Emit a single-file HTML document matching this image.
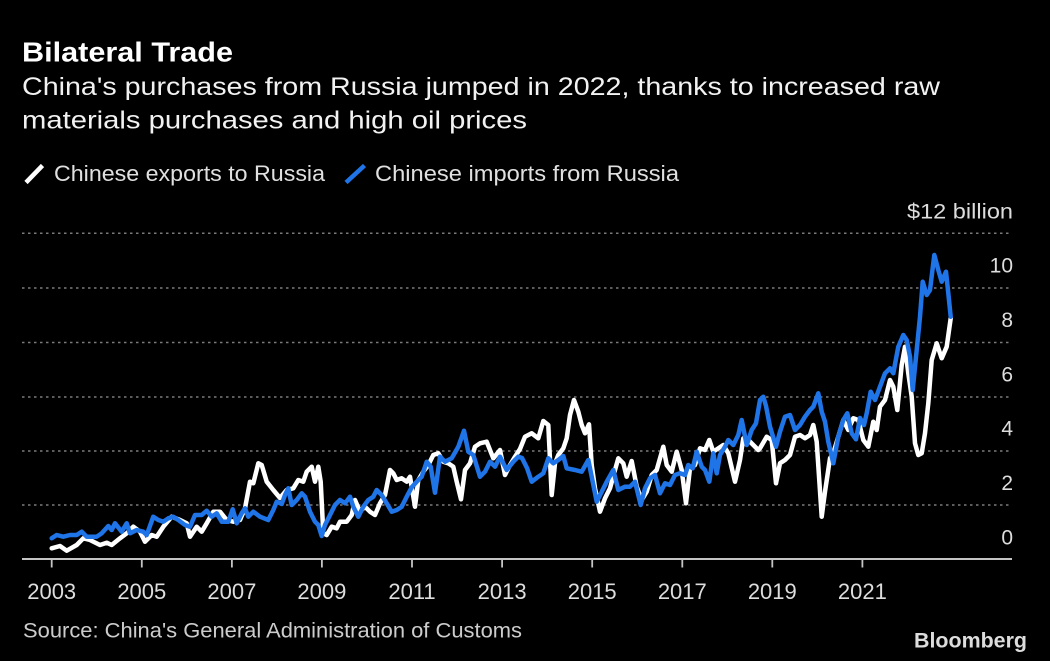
<!DOCTYPE html>
<html>
<head>
<meta charset="utf-8">
<style>
html,body{margin:0;padding:0;background:#000;width:1050px;height:661px;overflow:hidden;}
svg{display:block;}
text{font-family:"Liberation Sans",sans-serif;}
</style>
</head>
<body>
<svg width="1050" height="661" viewBox="0 0 1050 661" xmlns="http://www.w3.org/2000/svg">
<rect x="0" y="0" width="1050" height="661" fill="#000"/>

<!-- Title & subtitle -->
<text x="22" y="61.5" font-size="28" font-weight="bold" fill="#ffffff" textLength="211" lengthAdjust="spacingAndGlyphs">Bilateral Trade</text>
<text x="22" y="95" font-size="25" fill="#f2f2f2" textLength="918" lengthAdjust="spacingAndGlyphs">China's purchases from Russia jumped in 2022, thanks to increased raw</text>
<text x="22" y="128.5" font-size="25" fill="#f2f2f2" textLength="505" lengthAdjust="spacingAndGlyphs">materials purchases and high oil prices</text>

<!-- Legend -->
<line x1="26" y1="182.5" x2="42.5" y2="165.5" stroke="#ffffff" stroke-width="4.5" stroke-linecap="butt"/>
<text x="54" y="181" font-size="22" fill="#e0e0e0" textLength="271" lengthAdjust="spacingAndGlyphs">Chinese exports to Russia</text>
<line x1="346" y1="182.5" x2="364.5" y2="165.5" stroke="#1f74e8" stroke-width="4.5" stroke-linecap="butt"/>
<text x="375" y="181" font-size="22" fill="#e0e0e0" textLength="304" lengthAdjust="spacingAndGlyphs">Chinese imports from Russia</text>

<!-- Gridlines -->
<g stroke="#7a7a7a" stroke-width="1.5" stroke-dasharray="2.5 3.5">
<line x1="22" y1="233.3" x2="1012" y2="233.3"/>
<line x1="22" y1="288" x2="1012" y2="288"/>
<line x1="22" y1="342.5" x2="1012" y2="342.5"/>
<line x1="22" y1="397" x2="1012" y2="397"/>
<line x1="22" y1="451" x2="1012" y2="451"/>
<line x1="22" y1="505" x2="1012" y2="505"/>
</g>

<!-- Y labels -->
<g font-size="21" fill="#dddddd" text-anchor="end">
<text x="1013" y="218.3" textLength="106" lengthAdjust="spacingAndGlyphs">$12 billion</text>
<text x="1013" y="272.7">10</text>
<text x="1013" y="327">8</text>
<text x="1013" y="381.3">6</text>
<text x="1013" y="435.6">4</text>
<text x="1013" y="490">2</text>
<text x="1013" y="544.3">0</text>
</g>

<!-- Axis -->
<line x1="22" y1="559" x2="1012" y2="559" stroke="#c4c4c4" stroke-width="2"/>
<g stroke="#c4c4c4" stroke-width="1.8">
<line x1="51.7" y1="559" x2="51.7" y2="567.5"/>
<line x1="141.8" y1="559" x2="141.8" y2="567.5"/>
<line x1="231.9" y1="559" x2="231.9" y2="567.5"/>
<line x1="321.9" y1="559" x2="321.9" y2="567.5"/>
<line x1="412" y1="559" x2="412" y2="567.5"/>
<line x1="502.1" y1="559" x2="502.1" y2="567.5"/>
<line x1="592.2" y1="559" x2="592.2" y2="567.5"/>
<line x1="682.3" y1="559" x2="682.3" y2="567.5"/>
<line x1="772.3" y1="559" x2="772.3" y2="567.5"/>
<line x1="862.4" y1="559" x2="862.4" y2="567.5"/>
</g>
<g font-size="22" fill="#dddddd" text-anchor="middle">
<text x="51.7" y="599">2003</text>
<text x="141.8" y="599">2005</text>
<text x="231.9" y="599">2007</text>
<text x="321.9" y="599">2009</text>
<text x="412" y="599">2011</text>
<text x="502.1" y="599">2013</text>
<text x="592.2" y="599">2015</text>
<text x="682.3" y="599">2017</text>
<text x="772.3" y="599">2019</text>
<text x="862.4" y="599">2021</text>
</g>

<!-- Exports (white) -->
<polyline fill="none" stroke="#ffffff" stroke-width="4.5" stroke-linejoin="round" stroke-linecap="round" points="
51.7,548.3 60,546 66.7,550.7 76.7,545 83.3,538.3 90,540 100,545 106.7,542.7 111.7,545 120,538.3 126.7,533.3 133.3,526.7 140,531.7 145,541.7 151.7,535 156.7,536.7 163.3,526.7 171.7,516.7 180,520 186.7,523.3 190,536.7 196.7,526.7 201.7,531.7 206.7,523.3 213.3,511.7 220,511.7 226.7,520 233.3,521.7 240,520 245,508.3 250,481.7 253.3,483.3 258.3,463.3 261.7,465 266.7,481.7 273.3,490 280,498
286.7,490 293.3,488.3 298.3,480 303.3,481.7 306.7,471.7 311.7,466.7 315,481.7 318.3,466.7 320.7,481.7 323.3,533.3 326.7,535 331.7,526.7 336.7,528.3 340,521.7 346.7,521.7 351.7,515 355,500 360,511.7 365,506.7 370,511.7 375,515 380,503.3 385,495 390,470 393.3,473.3 396.7,480 401.7,478.3 406.7,481.7 410,476.7 415,506.7 418.3,480 423.3,471.7 428.3,465 433.3,455 438.3,453.3 443.3,461.7 448.3,463.3 453.3,466.7 456.7,481.7 461,499.3 465,470 470,463.3 475,446.7 480,443.3 486.7,441.7 493.3,458.3 500,450 505,475 510,465 515,456.7 520,449
525,436.7 531.7,433.3 538.3,438.3 543.3,421 548.3,425 551.7,495 555,463.3 558.3,455 563.3,448.3 566.7,438.3 570,415 574,400 578.3,411.7 581.7,425 585,433.3 589,424.3 591.7,465 595,488.3 600,511.7 605,498.3 610,488.3 615,470 618.3,458.3 623.3,463.3 626.7,476.7 631.7,461 636.7,486.7 641.7,500 646.7,491.7 651.7,475 656.7,470 663.3,446.7 666.7,465 671.7,471.7 676.7,451.7 681.7,470 686,503.3 690,468.3 695,465 700,448.3 705,450 709.3,440 713.3,451.7 718.3,448.3 723.3,445 728.3,453.3 735,481.7 740,460 743.3,438.3 748.3,440 753.3,445 758.3,450
760,448.3 766.7,436.7 771.7,440 776,483.3 780,463.3 785,460 790,455 795,436.7 800,435 805,438.3 810,435 813.3,425 816.7,441.7 821.7,516.7 825,491.7 830,458.3 833.3,453.3 838.3,436.7 843.3,420 848.3,430 853.3,418.3 858.3,420 863.3,440 868.3,446.7 873.3,421.7 876.7,430 880,406.7 885,400 890,380 893.3,386.7 897.3,410 901.7,365 905,346.7 908.3,373.3 911.7,396.7 915,443.3 918.3,455 921.7,453.3 925,433.3 928.3,403.3 931.7,360 936.7,343.3 941.7,358.3 946.7,346.7 950.7,318.3"/>

<!-- Imports (blue) -->
<polyline fill="none" stroke="#1f74e8" stroke-width="4.5" stroke-linejoin="round" stroke-linecap="round" points="
51.7,538.3 56.7,535 63.3,536.7 70,535 76.7,535 81.7,531.7 86.7,536.7 96.7,536.7 101.7,533.3 108.3,526 111.7,530 115,523.3 121.7,531.7 126.7,523.3 130,533.3 136.7,530 143.3,531.7 146.7,535 153.3,516.7 158.3,520 163.3,521.7 168.3,518.3 173.3,516.7 178.3,520 185,525 190,526.7 195,515 201.7,515 206.7,510.7 211.7,516.7 216.7,513.3 221.7,521.7 228.3,521.7 232.7,509.3 236.7,523.3 241.7,513.3 245,508.3 248.3,516.7 253.3,511.7 260,516.7 268.3,520 273.3,510 276.7,501.7 281.7,504
285,495 288.3,488.3 291.7,505 296.7,500 301.7,493.3 305,496.7 310,511.7 315,521.7 318.3,525 321.7,536 325,525 330,515 335,505 340,500 345,503.3 350,496.7 353.3,506.7 358.3,516.7 363.3,506.7 368.3,500 373.3,496.7 376.7,490 381.7,495 386.7,503.3 391.7,511.7 396.7,510 401.7,506.7 406.7,496.7 411.7,487.3 416.7,481.7 421.7,476.7 426.7,461.7 430.7,466.7 435,492.7 440,456.7 445,461.7 451.7,458.3 458.3,446.7 464,430.7 468.3,451.7 473.3,455 480,476.7 485,471.7 490,461.7 495,466.7 500,456.7 506.7,470 513.3,461.7 518.3,456.7
522,458 527,468 531.7,481.7 538.3,476.7 543.3,473.3 548.3,458.3 553.3,463.3 558.3,460 563.3,456 566.7,468.3 575,470 581.7,471.7 588.3,460 591.7,476.7 596.7,501.7 601.7,491.7 606.7,481.7 613.3,470 618.3,490 625,486.7 630,486.7 635,481.7 640.7,505 645,488.3 650,478.3 655,475 660,493.3 665,483.3 670,485 675,475 680,473.3 685,475 688.3,465 692.7,468.3 696.7,451.7 701.7,466.7 705,470 709.3,481.7 713.3,453.3 716.7,473.3 720,455 725,446.7 728.3,440 733.3,445 738.3,435 741.7,420 746.7,445 751.7,430 756,423.3 760,400 763.3,396.7
766,406 770,426.7 776,446.7 780,431.7 785,416.7 790,415 795,430 800,425 805,416.7 810,410 813.3,406.7 818.3,393.3 821.7,411.7 825,421.7 828.3,441.7 833.3,463.3 838.3,436.7 843.3,420 847.3,413.3 851.7,433.3 856,439.3 860,418 864,425 866.7,413.3 870.7,391.7 875,400 880,386.7 885,373.3 890,368.3 893.3,373.3 898.3,346.7 903.3,335 906.7,340 910,356.7 912.7,390 916.7,350 920,316.7 922.7,281.7 926.7,295 930,290 934.3,255 938.3,270 941.7,281.7 946,271.7 948.3,293.3 950.7,316.7"/>

<!-- Source & logo -->
<text x="23" y="637.3" font-size="21" fill="#cccccc" textLength="499" lengthAdjust="spacingAndGlyphs">Source: China's General Administration of Customs</text>
<text x="914" y="647.3" font-size="21" font-weight="bold" fill="#dddddd" textLength="113" lengthAdjust="spacingAndGlyphs">Bloomberg</text>
</svg>
</body>
</html>
